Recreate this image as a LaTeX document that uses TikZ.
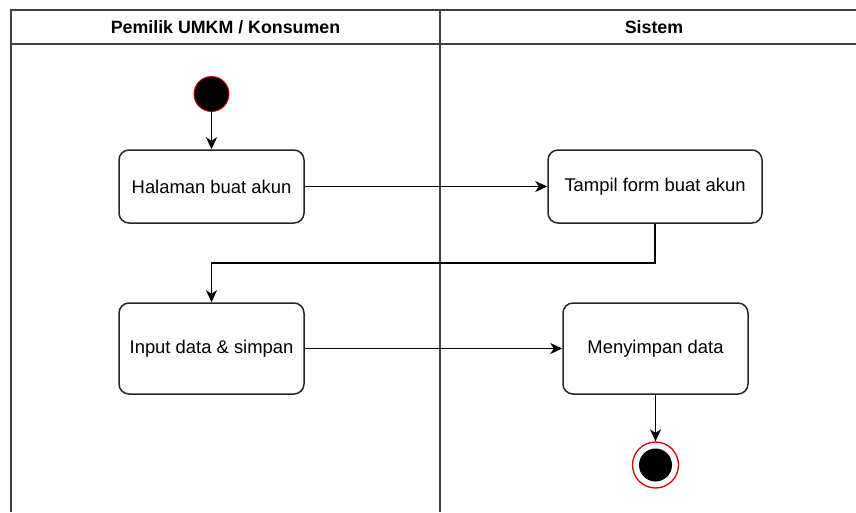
\documentclass[tikz,border=0pt]{standalone}
\usepackage{fontspec}
\setmainfont{Liberation Sans}
\usetikzlibrary{arrows.meta,calc}
\begin{document}
\begin{tikzpicture}[x=1pt,y=-1pt,
  lane/.style={draw=black!75,line width=1.8pt},
  act/.style={draw=black!85,line width=1.5pt,rounded corners=10pt,fill=white,
    font=\fontsize{18.4}{22}\selectfont,inner sep=0pt},
  hdr/.style={font=\bfseries\fontsize{17.8}{21}\selectfont,inner sep=0pt},
  flow/.style={draw=black,line width=1.5pt,-{Stealth[length=12pt,width=11pt,inset=3.5pt]}}]
\useasboundingbox (0,0) rectangle (856,512);
% swimlanes
\draw[lane] (11,512) -- (11,10) -- (856,10);
\draw[lane] (11,44) -- (856,44);
\draw[lane] (440,10) -- (440,512);
\node[hdr] (h1) at (225.5,27.5) {Pemilik UMKM / Konsumen};
\node[hdr] (h2) at (654,27.5) {Sistem};
% nodes
\node[circle,fill=black,draw={rgb,255:red,200;green,0;blue,0},line width=0.9pt,minimum size=35pt,inner sep=0pt] (start) at (211.5,94) {};
\node[act,minimum width=185pt,minimum height=73pt] (halaman) at (211.5,186.5) {Halaman buat akun};
\node[act,minimum width=214pt,minimum height=73pt] (tampil) at (655,186.5) {Tampil form buat akun};
\node[act,minimum width=185pt,minimum height=91pt] (input) at (211.5,348.5) {Input data \& simpan};
\node[act,minimum width=185pt,minimum height=91pt] (simpan) at (655.5,348.5) {Menyimpan data};
\node[circle,draw={rgb,255:red,220;green,0;blue,0},fill=white,line width=1.3pt,minimum size=46pt,inner sep=0pt] (end) at (655.5,465) {};
\node[circle,fill=black,minimum size=33pt,inner sep=0pt] (endin) at (end.center) {};
% connectors
\draw[flow] (start) -- (halaman);
\draw[flow] (halaman) -- (tampil);
\draw[flow] (tampil.south) -- (tampil.south |- 0,263) -| (input.north);
\draw[flow] (input) -- (simpan);
\draw[flow] (simpan) -- (end);
\end{tikzpicture}
\end{document}
